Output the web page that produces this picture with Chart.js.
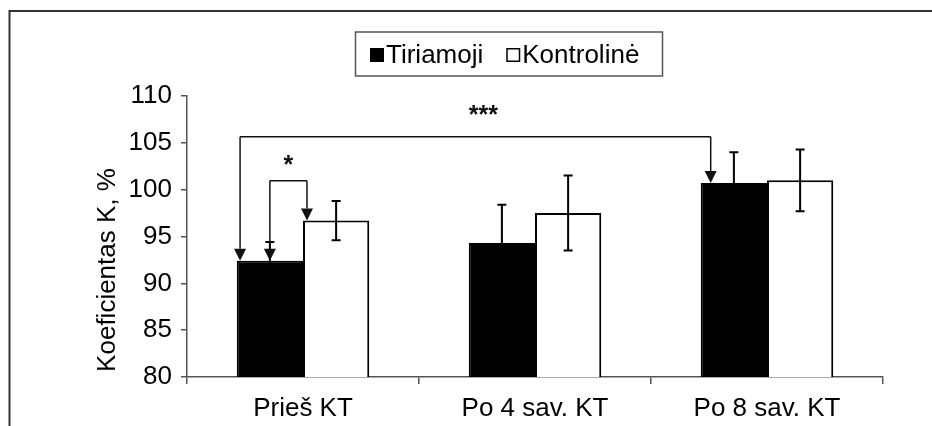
<!DOCTYPE html>
<html lang="lt">
<head>
<meta charset="utf-8">
<title>Koeficientas K</title>
<script src="https://cdn.jsdelivr.net/npm/chart.js@4/dist/chart.umd.min.js"></script>
<style>
    html, body { margin: 0; padding: 0; background: #fff; }
</style>
</head>
<body>
<canvas id="kChart" width="932" height="426"></canvas>
<script>
// Duomenys
const kategorijos = ['Prieš KT', 'Po 4 sav. KT', 'Po 8 sav. KT'];
const grupes = ['Tiriamoji', 'Kontrolinė'];
const tiriamoji = [92.4, 94.3, 100.7];
const tiriamojiPaklaida = [2.0, 4.1, 3.3];
const kontroline = [96.7, 97.5, 101.0];
const kontrolinePaklaida = [2.1, 4.0, 3.3];
const yMin = 80, yMax = 110, yStep = 5;
const asiesPavadinimas = 'Koeficientas K, %';

// Palyginimai: from/to = [grupė, kategorija], lygis = y reikšmė
const palyginimai = [
    { from: [0, 0], to: [0, 2], lygis: 105.65, zenklas: '***' },
    { from: [0, 0], to: [1, 0], lygis: 100.95, zenklas: '*' },
];
// arrow x shift inside each bar (fraction of bar width), style only
const rodykliuPoslinkis = [[-0.45, -0.35], [0, -0.44]];
const zenkloTarpas = [28, 22];

const FONT = '"Liberation Sans", Arial, sans-serif';
const paklaidos = [tiriamojiPaklaida, kontrolinePaklaida];

// Error bars
const klaiduJuostos = {
    id: 'klaiduJuostos',
    afterDatasetsDraw(chart) {
        const ctx = chart.ctx;
        const y = chart.scales.y;
        chart.data.datasets.forEach((ds, di) => {
            chart.getDatasetMeta(di).data.forEach((bar, i) => {
                const v = ds.data[i], e = paklaidos[di][i];
                const top = y.getPixelForValue(v + e);
                const bot = y.getPixelForValue(v - e);
                ctx.save();
                ctx.strokeStyle = '#000';
                ctx.lineWidth = 2;
                ctx.beginPath();
                ctx.moveTo(bar.x, top); ctx.lineTo(bar.x, bot);
                ctx.moveTo(bar.x - 4.5, top); ctx.lineTo(bar.x + 4.5, top);
                ctx.moveTo(bar.x - 4.5, bot); ctx.lineTo(bar.x + 4.5, bot);
                ctx.stroke();
                ctx.restore();
            });
        });
    }
};

function rodykle(ctx, x, yNuo, yIki) {
    const h = 12, w = 6;
    ctx.beginPath();
    ctx.moveTo(x, yNuo); ctx.lineTo(x, yIki - h);
    ctx.stroke();
    ctx.beginPath();
    ctx.moveTo(x - w, yIki - h); ctx.lineTo(x + w, yIki - h); ctx.lineTo(x, yIki);
    ctx.closePath();
    ctx.fill();
}

// Brackets with arrows and stars
const palyginimuRodykles = {
    id: 'palyginimuRodykles',
    afterDatasetsDraw(chart) {
        const ctx = chart.ctx;
        const y = chart.scales.y;
        palyginimai.forEach((p, k) => {
            const b1 = chart.getDatasetMeta(p.from[0]).data[p.from[1]];
            const b2 = chart.getDatasetMeta(p.to[0]).data[p.to[1]];
            const x1 = b1.x + b1.width * rodykliuPoslinkis[k][0];
            const x2 = b2.x + b2.width * rodykliuPoslinkis[k][1];
            const yl = y.getPixelForValue(p.lygis);
            ctx.save();
            ctx.strokeStyle = '#111';
            ctx.fillStyle = '#111';
            ctx.lineWidth = 1.5;
            ctx.beginPath();
            ctx.moveTo(x1, yl); ctx.lineTo(x2, yl);
            ctx.stroke();
            rodykle(ctx, x1, yl, b1.y);
            rodykle(ctx, x2, yl, b2.y);
            ctx.font = 'bold 25px ' + FONT;
            ctx.textAlign = 'center';
            ctx.textBaseline = 'middle';
            ctx.fillText(p.zenklas, (x1 + x2) / 2 + (k === 0 ? 8 : 0), yl - zenkloTarpas[k] + 7);
            ctx.restore();
        });
    }
};

// Frame, legend box, y title
const remelis = {
    id: 'remelis',
    afterDraw(chart) {
        const ctx = chart.ctx;
        ctx.save();
        ctx.strokeStyle = '#333';
        ctx.lineWidth = 2;
        ctx.beginPath();
        ctx.moveTo(9.5, 426); ctx.lineTo(9.5, 11); ctx.lineTo(932, 11);
        ctx.stroke();

        // legenda
        ctx.strokeStyle = '#555';
        ctx.lineWidth = 1.5;
        ctx.strokeRect(355.5, 32, 307, 44);
        ctx.font = '26px ' + FONT;
        ctx.textBaseline = 'alphabetic';
        let x = 370;
        chart.data.datasets.forEach(ds => {
            ctx.fillStyle = ds.backgroundColor;
            ctx.fillRect(x, 48, 14, 14);
            ctx.strokeStyle = '#000';
            ctx.lineWidth = 1.5;
            ctx.strokeRect(x + 0.75, 48.75, 12.5, 12.5);
            x += 16;
            ctx.fillStyle = '#000';
            ctx.fillText(ds.label, x, 63);
            x += ctx.measureText(ds.label).width + 23;
        });

        // y ašies pavadinimas
        ctx.translate(115, 270);
        ctx.rotate(-Math.PI / 2);
        ctx.textAlign = 'center';
        ctx.fillText(asiesPavadinimas, 0, 0);
        ctx.restore();
    }
};

new Chart(document.getElementById('kChart'), {
    type: 'bar',
    data: {
        labels: kategorijos,
        datasets: [
            {
                label: grupes[0],
                data: tiriamoji,
                backgroundColor: '#000',
                borderColor: '#000',
                borderWidth: 2,
            },
            {
                label: grupes[1],
                data: kontroline,
                backgroundColor: '#fff',
                borderColor: '#000',
                borderWidth: 2,
            }
        ]
    },
    options: {
        responsive: false,
        animation: false,
        categoryPercentage: 0.571,
        barPercentage: 1.0,
        layout: { padding: { top: 96, right: 49, bottom: 0, left: 0 } },
        plugins: {
            legend: { display: false },
            tooltip: { enabled: false },
            title: { display: false }
        },
        scales: {
            x: {
                afterFit: s => { s.height = 49; },
                border: { color: '#555', width: 1.5 },
                grid: { offset: true, drawOnChartArea: false, tickLength: 7, color: '#555', lineWidth: 1.5 },
                ticks: { color: '#000', font: { family: FONT, size: 26 }, padding: 9 }
            },
            y: {
                min: yMin,
                max: yMax,
                afterFit: s => { s.width = 187; },
                border: { color: '#555', width: 1.5 },
                grid: { drawOnChartArea: false, tickLength: 6, color: '#555', lineWidth: 1.5 },
                ticks: { stepSize: yStep, color: '#000', font: { family: FONT, size: 26 }, padding: 9 }
            }
        }
    },
    plugins: [klaiduJuostos, palyginimuRodykles, remelis]
});
</script>
</body>
</html>
